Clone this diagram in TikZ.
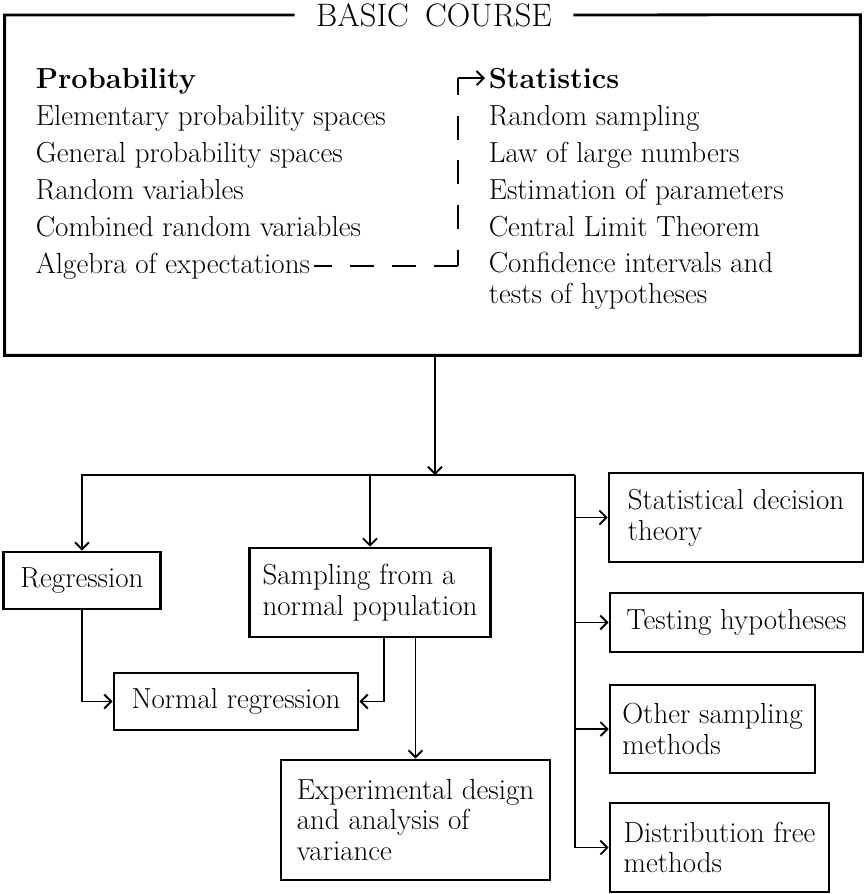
\documentclass[tikz,border=0pt]{standalone}
\usetikzlibrary{arrows.meta,positioning,fit,calc}
\tikzset{
  >={Straight Barb[length=4pt,width=8pt]},
  item/.style={anchor=base west, inner sep=2pt},
  topic/.style={draw, line width=1.5pt, align=left, inner sep=0pt},
  frame/.style={line width=1.6pt},
  link/.style={line width=1.1pt, ->}
}
\begin{document}
\begin{tikzpicture}[x=0.02cm,y=-0.02cm,font=\fontsize{16.5}{17.5}\selectfont]
\useasboundingbox (0,0) rectangle (865,894);

% Basic course frame
\node[fit={(5,15) (860,355)}, inner sep=0pt] (basic) {};
\node[font=\fontsize{18.5}{20}\selectfont, inner xsep=12pt] (title) at (434,15) {BASIC\enspace COURSE};
\draw[frame] (title.west) -| (basic.south west) -| (basic.north east) -- (title.east);

% Probability column
\node[item] (prob) at (32,88) {\textbf{Probability}};
\node[item] (elem) at (32,125) {Elementary probability spaces};
\node[item] (gen) at (32,162) {General probability spaces};
\node[item] (rv) at (32,199) {Random variables};
\node[item] (comb) at (32,236) {Combined random variables};
\node[item] (alg) at (32,273) {Algebra of expectations};

% Statistics column
\node[item] (stats) at (485,88) {\textbf{Statistics}};
\node[item] (rsamp) at (485,125) {Random sampling};
\node[item] (lln) at (485,162) {Law of large numbers};
\node[item] (est) at (485,199) {Estimation of parameters};
\node[item] (clt) at (485,236) {Central Limit Theorem};
\node[item, anchor=west, align=left] (conf) at (485,281) {Confidence intervals and\\tests of hypotheses};

% Probability leads to statistics
\coordinate (bend) at ($(stats.west)+(-27,0)$);
\coordinate (low) at (bend |- alg.east);
\draw[link] (bend) -- (stats.west);
\draw[link, -, dash pattern=on 13.7pt off 11.7pt, dash phase=4pt] (bend) -- (low);
\draw[link, -, dash pattern=on 13.7pt off 10.2pt] (low) -- (alg.east);

% Further courses
\node[topic, minimum width=89pt, minimum height=32.4pt] (regr) at (82,580.5) {Regression};
\node[topic, minimum width=137pt, minimum height=50.6pt] (samp) at (370,592.5) {Sampling from a\\normal population};
\node[topic, minimum width=139pt, minimum height=32.4pt] (norm) at (236,701.5) {Normal regression};
\node[topic, minimum width=153pt, minimum height=68.3pt] (expd) at (415.5,820) {Experimental design\\and analysis of\\variance};
\node[topic, minimum width=144.5pt, minimum height=50.6pt] (stat) at (736,517.5) {Statistical decision\\theory};
\node[topic, minimum width=144pt, minimum height=33.6pt] (test) at (736.5,622.5) {Testing hypotheses};
\node[topic, minimum width=116.6pt, minimum height=50pt] (other) at (712.5,729) {Other sampling\\methods};
\node[topic, minimum width=124.6pt, minimum height=50.6pt] (dist) at (719.5,847.5) {Distribution free\\methods};

% Branching lines
\coordinate (split) at (435,475);
\coordinate (trunk) at (575,475);
\draw[link] (basic.south -| split) -- (split);
\draw[link] (trunk) -- (regr.north |- trunk) -- (regr.north);
\draw[link] (samp.north |- trunk) -- (samp.north);
\draw[link, -] (trunk) -- (trunk |- dist.west);
\foreach \n in {stat,test,other,dist}
  \draw[link] (trunk |- \n.west) -- (\n.west);

\draw[link] (regr.south) |- (norm.west);
\draw[link] ($(samp.south)+(14,0)$) |- (norm.east);
\draw[link] (samp.south -| expd.north) -- (expd.north);
\end{tikzpicture}
\end{document}
